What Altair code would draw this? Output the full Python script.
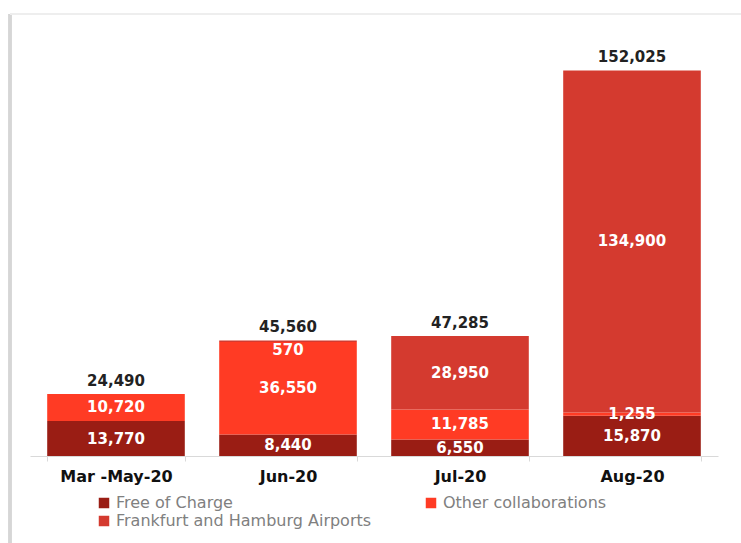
import altair as alt
import pandas as pd

categories = ["Mar -May-20", "Jun-20", "Jul-20", "Aug-20"]
series = ["Free of Charge", "Other collaborations", "Frankfurt and Hamburg Airports"]
free_of_charge = [13770, 8440, 6550, 15870]
other_collab = [10720, 36550, 11785, 1255]
frankfurt_hamburg = [0, 570, 28950, 134900]
totals = [24490, 45560, 47285, 152025]
colors = ["#9A1D14", "#FF3B24", "#D43A2F"]

rows = []
for i, c in enumerate(categories):
    for k, (s, vals) in enumerate(zip(series, [free_of_charge, other_collab, frankfurt_hamburg])):
        if vals[i] > 0:
            rows.append({"cat": c, "series": s, "value": vals[i], "ord": k})
df = pd.DataFrame(rows)
tot_df = pd.DataFrame({"cat": categories, "total": totals})

# legend is laid out column by column: put Frankfurt second so it lands under Free of Charge
legend_domain = [series[0], series[2], series[1]]
legend_range = [colors[0], colors[2], colors[1]]

x_enc = alt.X("cat:N", sort=categories, title=None,
              scale=alt.Scale(paddingInner=0.2, paddingOuter=0.1),
              axis=alt.Axis(labelAngle=0, labelFont="DejaVu Sans", labelFontWeight="bold",
                            labelFontSize=16, labelColor="#111", labelPadding=7,
                            domainColor="#d9d9d9", tickColor="#d9d9d9", tickSize=5,
                            tickBand="extent", domainWidth=1))
y_scale = alt.Scale(domain=[0, 164000], nice=False)

base = alt.Chart(df)

bars = base.mark_bar().encode(
    x=x_enc,
    y=alt.Y("value:Q", stack="zero", scale=y_scale, axis=None),
    color=alt.Color("series:N", sort=legend_domain,
                    scale=alt.Scale(domain=legend_domain, range=legend_range),
                    legend=alt.Legend(title=None, orient="none", legendX=66, legendY=455,
                                      columns=2, columnPadding=51, rowPadding=2,
                                      labelFont="DejaVu Sans", labelFontSize=16,
                                      labelColor="#808080", labelLimit=0,
                                      symbolType="square", symbolSize=110,
                                      symbolStrokeWidth=0, symbolOffset=0)),
    order=alt.Order("ord:Q"),
)

stacked = base.transform_stack(
    stack="value", groupby=["cat"], as_=["v0", "v1"], sort=[alt.SortField("ord")]
).transform_joinaggregate(tot="sum(value)", groupby=["cat"]).transform_calculate(
    mid="(datum.v0 + datum.v1) / 2",
    small_top="datum.value < 2000 && datum.v1 >= datum.tot - 1",
)

labels = stacked.transform_filter("!datum.small_top").mark_text(
    font="DejaVu Sans", fontWeight="bold", fontSize=15, color="white", baseline="middle"
).encode(
    x=alt.X("cat:N", sort=categories),
    y=alt.Y("mid:Q", scale=y_scale),
    text=alt.Text("value:Q", format=","),
)

labels_small = stacked.transform_filter("datum.small_top").mark_text(
    font="DejaVu Sans", fontWeight="bold", fontSize=15, color="white", baseline="top", dy=3
).encode(
    x=alt.X("cat:N", sort=categories),
    y=alt.Y("v1:Q", scale=y_scale),
    text=alt.Text("value:Q", format=","),
)

total_labels = alt.Chart(tot_df).mark_text(
    font="DejaVu Sans", fontWeight="bold", fontSize=15, color="#222", baseline="bottom", dy=-5
).encode(
    x=alt.X("cat:N", sort=categories),
    y=alt.Y("total:Q", scale=y_scale),
    text=alt.Text("total:Q", format=","),
)

frame_left = alt.Chart(tot_df).mark_rule(color="#d6d6d6", strokeWidth=3).encode(
    x=alt.value(-20), y=alt.value(-26), y2=alt.value(503))
frame_top = alt.Chart(tot_df).mark_rule(color="#eeeeee", strokeWidth=2).encode(
    x=alt.value(-20), x2=alt.value(711), y=alt.value(-26))

chart = alt.layer(frame_left, frame_top, bars, labels, labels_small, total_labels).properties(
    width=688, height=416,
    padding={"left": 30, "top": 40, "right": 23, "bottom": 87},
    autosize=alt.AutoSizeParams(type="none"),
).configure(background="white").configure_view(stroke=None, strokeWidth=0)

chart.save("out.html", embed_options={"renderer": "svg", "actions": False})
